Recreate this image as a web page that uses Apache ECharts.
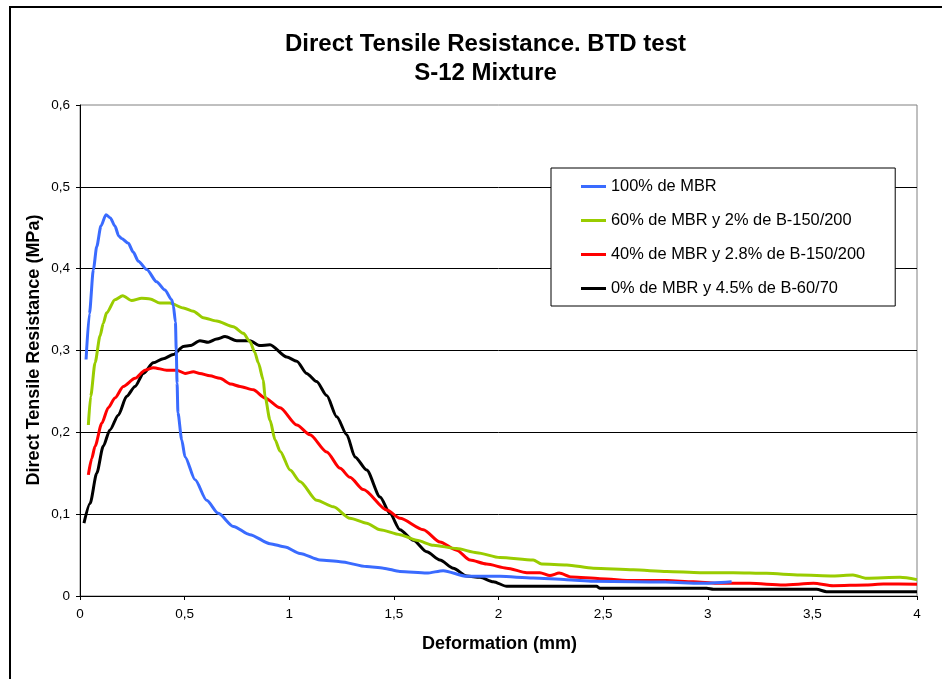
<!DOCTYPE html>
<html>
<head>
<meta charset="utf-8">
<script src="https://cdn.jsdelivr.net/npm/echarts@6/dist/echarts.min.js"></script>
<style>
html,body{margin:0;padding:0;background:#fff;}
#chart{width:942px;height:679px;}
</style>
</head>
<body>
<div id="chart"></div>
<script>
var seriesNames = [
  '100% de MBR',
  '60% de MBR y 2% de B-150/200',
  '40% de MBR y 2.8% de B-150/200',
  '0% de MBR y 4.5% de B-60/70'
];
var xTicks = { min: 0, max: 4, interval: 0.5 };
var yTicks = { min: 0, max: 0.6, interval: 0.1 };

var mbr100 = [[0.029,0.289],[0.045,0.345],[0.064,0.399],[0.080,0.427],[0.100,0.452],[0.124,0.466],[0.145,0.462],[0.167,0.452],[0.185,0.440],[0.199,0.437],[0.231,0.431],[0.255,0.420],[0.279,0.409],[0.319,0.399],[0.366,0.384],[0.406,0.374],[0.438,0.362],[0.446,0.355],[0.456,0.335],[0.460,0.300],[0.464,0.260],[0.468,0.224],[0.486,0.191],[0.502,0.170],[0.550,0.142],[0.605,0.117],[0.661,0.101],[0.733,0.085],[0.812,0.075],[0.908,0.064],[0.980,0.060],[1.051,0.052],[1.147,0.044],[1.243,0.042],[1.370,0.036],[1.450,0.034],[1.529,0.030],[1.657,0.028],[1.736,0.031],[1.848,0.024],[2.007,0.024],[2.165,0.022],[2.326,0.020],[2.452,0.018],[2.643,0.0175],[2.800,0.017],[2.963,0.0155],[3.114,0.0175]];

var mbr60 = [[0.040,0.209],[0.051,0.244],[0.072,0.285],[0.096,0.318],[0.111,0.333],[0.127,0.346],[0.167,0.362],[0.204,0.367],[0.247,0.361],[0.295,0.364],[0.335,0.363],[0.382,0.358],[0.430,0.358],[0.494,0.352],[0.542,0.348],[0.589,0.340],[0.653,0.336],[0.733,0.329],[0.781,0.321],[0.812,0.311],[0.835,0.298],[0.852,0.285],[0.876,0.264],[0.884,0.244],[0.908,0.215],[0.932,0.191],[0.956,0.177],[1.004,0.154],[1.051,0.140],[1.131,0.117],[1.211,0.109],[1.290,0.095],[1.370,0.089],[1.434,0.081],[1.529,0.075],[1.609,0.068],[1.689,0.062],[1.800,0.058],[1.896,0.053],[2.007,0.047],[2.166,0.044],[2.206,0.039],[2.326,0.038],[2.453,0.034],[2.644,0.032],[2.804,0.030],[2.963,0.0285],[3.122,0.0285],[3.281,0.0277],[3.441,0.0257],[3.600,0.0245],[3.694,0.0257],[3.759,0.0216],[3.919,0.0228],[4.000,0.020]];

var mbr40 = [[0.040,0.148],[0.056,0.168],[0.072,0.183],[0.104,0.211],[0.135,0.230],[0.167,0.242],[0.207,0.256],[0.263,0.266],[0.311,0.276],[0.350,0.279],[0.414,0.276],[0.462,0.276],[0.502,0.272],[0.542,0.274],[0.573,0.272],[0.621,0.269],[0.669,0.266],[0.721,0.259],[0.765,0.256],[0.828,0.252],[0.884,0.242],[0.956,0.230],[1.036,0.209],[1.099,0.197],[1.179,0.176],[1.243,0.156],[1.290,0.145],[1.354,0.130],[1.466,0.105],[1.529,0.095],[1.641,0.081],[1.720,0.066],[1.800,0.056],[1.864,0.044],[1.943,0.039],[2.039,0.034],[2.135,0.0285],[2.198,0.0285],[2.246,0.0250],[2.290,0.0280],[2.350,0.0232],[2.485,0.0212],[2.644,0.0188],[2.804,0.0188],[2.931,0.0175],[3.043,0.0155],[3.202,0.0155],[3.361,0.0135],[3.505,0.0155],[3.600,0.0126],[3.759,0.0135],[3.839,0.0147],[4.000,0.0143]];

var mbr0 = [[0.019,0.089],[0.048,0.113],[0.080,0.150],[0.111,0.183],[0.143,0.203],[0.183,0.221],[0.223,0.244],[0.263,0.256],[0.303,0.272],[0.350,0.285],[0.398,0.290],[0.446,0.295],[0.494,0.305],[0.526,0.306],[0.573,0.312],[0.613,0.310],[0.653,0.314],[0.693,0.317],[0.749,0.312],[0.812,0.312],[0.860,0.306],[0.908,0.307],[0.988,0.292],[1.036,0.287],[1.083,0.272],[1.131,0.262],[1.179,0.245],[1.227,0.219],[1.275,0.197],[1.314,0.170],[1.370,0.154],[1.434,0.121],[1.481,0.101],[1.529,0.081],[1.593,0.068],[1.657,0.054],[1.720,0.044],[1.784,0.034],[1.848,0.0245],[1.912,0.0228],[1.975,0.0175],[2.039,0.0118],[2.469,0.0118],[2.485,0.0094],[2.995,0.0094],[3.027,0.0082],[3.520,0.0082],[3.568,0.0053],[4.000,0.0053]];

var seriesData = [mbr100, mbr60, mbr40, mbr0];
var seriesColors = ['#3A6BFF', '#99CC00', '#FF0000', '#000000'];

var FONT = "'Liberation Sans', Arial, sans-serif";
function comma(v){ return String(+v.toFixed(2)).replace('.', ','); }

var chart = echarts.init(document.getElementById('chart'), null, {renderer:'canvas'});
var option = {
  animation: false,
  backgroundColor: '#fff',
  grid: { left: 80, right: 25, top: 105, bottom: 83, show: true, borderColor: '#808080', borderWidth: 1, backgroundColor: 'transparent' },
  xAxis: {
    type: 'value', min: xTicks.min, max: xTicks.max, interval: xTicks.interval,
    axisLine: { show: true, onZero: false, lineStyle: { color: '#000', width: 1 } },
    axisTick: { show: true, length: 4, lineStyle: { color: '#000' } },
    axisLabel: { color: '#000', fontSize: 13.5, fontFamily: FONT, margin: 11, formatter: comma },
    splitLine: { show: false }
  },
  yAxis: {
    type: 'value', min: yTicks.min, max: yTicks.max, interval: yTicks.interval,
    axisLine: { show: true, onZero: false, lineStyle: { color: '#000', width: 1 } },
    axisTick: { show: true, length: 4, lineStyle: { color: '#000' } },
    axisLabel: { color: '#000', fontSize: 13.5, fontFamily: FONT, margin: 10, formatter: comma },
    splitLine: { show: true, showMaxLine: false, lineStyle: { color: '#000', width: 1 } }
  },
  legend: {
    orient: 'vertical', left: 551, top: 168,
    padding: [10, 30, 9, 30],
    itemGap: 17, itemWidth: 25, itemHeight: 3, icon: 'rect',
    backgroundColor: '#fff', borderColor: '#000', borderWidth: 1,
    textStyle: { color: '#000', fontSize: 16.4, fontFamily: FONT, lineHeight: 17 },
    data: seriesNames
  },
  graphic: [
    { type: 'rect', z: -10, silent: true, shape: { x: 10, y: 7, width: 1000, height: 1000 }, style: { fill: 'none', stroke: '#000', lineWidth: 2 } },
    { type: 'text', x: 485.5, y: 44, style: { text: 'Direct Tensile Resistance. BTD test', font: 'bold 24px ' + FONT, fill: '#000', textAlign: 'center', textVerticalAlign: 'middle' } },
    { type: 'text', x: 485.5, y: 73.5, style: { text: 'S-12 Mixture', font: 'bold 24px ' + FONT, fill: '#000', textAlign: 'center', textVerticalAlign: 'middle' } },
    { type: 'text', x: 34.5, y: 350, rotation: Math.PI / 2, style: { text: 'Direct Tensile Resistance (MPa)', font: 'bold 18px ' + FONT, fill: '#000', textAlign: 'center', textVerticalAlign: 'middle' } },
    { type: 'text', x: 499.5, y: 644, style: { text: 'Deformation (mm)', font: 'bold 18px ' + FONT, fill: '#000', textAlign: 'center', textVerticalAlign: 'middle' } }
  ],
  series: seriesNames.map(function(n, i){
    return {
      name: n, type: 'line', data: seriesData[i],
      showSymbol: false, symbol: 'none',
      smooth: 0.25, smoothMonotone: 'x',
      lineStyle: { color: seriesColors[i], width: 3 },
      itemStyle: { color: seriesColors[i] },
      z: 10 - i
    };
  })
};
chart.setOption(option);
</script>
</body>
</html>
